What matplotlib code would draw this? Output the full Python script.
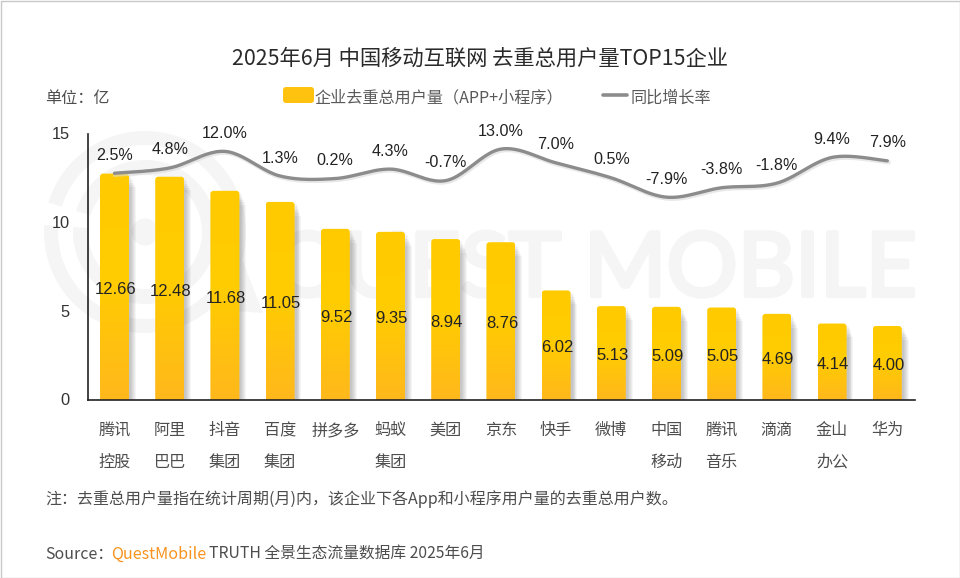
import numpy as np
import matplotlib
matplotlib.use('Agg')
import matplotlib.pyplot as plt
import matplotlib.patheffects as pe
from matplotlib.patches import FancyBboxPatch, Rectangle, Circle, Wedge, Polygon
from matplotlib.transforms import ScaledTranslation
from matplotlib.colors import LinearSegmentedColormap

plt.rcParams['font.family'] = ['Noto Sans CJK SC', 'DejaVu Sans']

companies = ['腾讯\n控股', '阿里\n巴巴', '抖音\n集团', '百度\n集团', '拼多多\n ', '蚂蚁\n集团', '美团\n ', '京东\n ',
             '快手\n ', '微博\n ', '中国\n移动', '腾讯\n音乐', '滴滴\n ', '金山\n办公', '华为\n ']
users = [12.66, 12.48, 11.68, 11.05, 9.52, 9.35, 8.94, 8.76, 6.02, 5.13, 5.09, 5.05, 4.69, 4.14, 4.00]
growth = [2.5, 4.8, 12.0, 1.3, 0.2, 4.3, -0.7, 13.0, 7.0, 0.5, -7.9, -3.8, -1.8, 9.4, 7.9]
y_ticks = [0, 5, 10, 15]

W, H = 960, 578
fig = plt.figure(figsize=(W / 100, H / 100), dpi=100)
bg = fig.add_axes([0, 0, 1, 1])
bg.set_xlim(0, W); bg.set_ylim(H, 0); bg.axis('off')

# frame
bg.add_patch(Rectangle((0.5, 0.5), W - 1, H - 1, fill=False, ec='#c8c8c8', lw=1.0))

# watermark
wm = '#f5f5f5'
cx, cy = 145, 232
bg.add_patch(Wedge((cx, cy), 101, 197, 544, width=14, fc=wm, ec='none'))
bg.add_patch(Wedge((cx, cy), 72, 197, 544, width=15, fc=wm, ec='none'))
bg.add_patch(Circle((cx, cy), 13.5, fc=wm, ec='none'))
bg.add_patch(Polygon([(236, 244), (263, 313), (222, 310)], fc=wm, ec='none'))
bg.text(917, 296, 'QUEST MOBILE', fontsize=64, family='Lato', color=wm, ha='right', va='baseline',
        path_effects=[pe.withStroke(linewidth=3, foreground=wm)])

TXT = '#4d4d4d'
bg.text(480, 59, '2025年6月 中国移动互联网 去重总用户量TOP15企业', fontsize=15.35, ha='center', va='center', color='#2a2a2a')
bg.text(45, 98, '单位：亿', fontsize=11.6, ha='left', va='center', color=TXT)

# legend
bg.add_patch(FancyBboxPatch((283, 87), 31, 16, boxstyle='round,pad=0,rounding_size=3', fc='#ffc20e', ec='none'))
bg.text(314.5, 98, '企业去重总用户量（APP+小程序）', fontsize=11.6, ha='left', va='center', color='#5a5a5a')
bg.plot([603, 627], [94.5, 94.5], color='#8c8c8c', lw=2.6, solid_capstyle='round')
bg.text(631, 98, '同比增长率', fontsize=11.6, ha='left', va='center', color='#5a5a5a')

# plot axes: the baseline is drawn a little below value 0
L, R, T, B = 87.5, 915, 130, 400
ZERO = 396.4
PX = 17.6
YMIN = (ZERO - B) / PX
YMAX = (ZERO - T) / PX
ax = fig.add_axes([L / W, 1 - B / H, (R - L) / W, (B - T) / H])
ax.patch.set_alpha(0)
STEP = 55.2
x = np.arange(len(users))
XLIM = ((L - 114.5) / STEP, (R - 114.5) / STEP)
for s in ('top', 'right'):
    ax.spines[s].set_visible(False)
ax.spines['left'].set_bounds(YMIN, (ZERO - 134) / PX)
for s in ('left', 'bottom'):
    ax.spines[s].set_color('#222222')
    ax.spines[s].set_linewidth(1.2)

ax.set_yticks(y_ticks)
ax.set_yticklabels([str(t) for t in y_ticks], family='Liberation Sans', fontsize=11.8, color='#333333')
ax.tick_params(axis='y', length=0, pad=13)
ax.set_xticks(x)
ax.set_xticklabels(companies, fontsize=11.6, color=TXT, linespacing=2.12)
ax.tick_params(axis='x', length=0, pad=15.9)

# bars
BW = 29 / STEP
cmap = LinearSegmentedColormap.from_list('b', ['#ffcc00', '#ffcb02', '#ffb81c'])
grad = np.linspace(0, 1, 128).reshape(-1, 1)
bars = ax.bar(x, users, width=BW, color='none')
for xi, v in zip(x, users):
    # soft shadow at the right of the bar
    for k in range(6):
        ax.add_patch(Rectangle((xi - BW / 2 + 0.02, YMIN), BW + (k + 1) * 0.017, v - YMIN - 0.13 * (k + 1),
                               fc='#000000', alpha=0.04, ec='none', zorder=1))
    clip = FancyBboxPatch((xi - BW / 2, -1.5), BW, v + 1.5, boxstyle='round,pad=0,rounding_size=0.055',
                          mutation_aspect=STEP / PX, fc='none', ec='none', transform=ax.transData)
    ax.add_patch(clip)
    im = ax.imshow(grad, extent=(xi - BW / 2, xi + BW / 2, YMIN, v), cmap=cmap, vmin=0, vmax=1,
                   aspect='auto', origin='upper', zorder=2)
    im.set_clip_path(clip)
    ax.annotate(f'{v:.2f}', (xi, v / 2 - 0.26), xytext=(1, 0), textcoords='offset pixels', ha='center', va='center',
                fontsize=12, family='Liberation Sans', color='#222222', zorder=4)
ax.set_xlim(*XLIM)
ax.set_ylim(YMIN, YMAX)

# tick labels sit slightly below their nominal height in the reference
for lab, dy in zip(ax.get_yticklabels(), [-3, -2.6, -1.6, -0.6]):
    lab.set_transform(lab.get_transform() + ScaledTranslation(0, dy / 100, fig.dpi_scale_trans))

# growth line (secondary axis)
ax2 = ax.twinx()
ax2.set_ylim((179 - B) / 2.3, (179 - T) / 2.3)
ax2.axis('off')
def smooth(xs, ys, n=24):
    px = np.r_[xs[0], xs, xs[-1]]; py = np.r_[ys[0], ys, ys[-1]]
    ox, oy = [], []
    for i in range(1, len(px) - 2):
        t = np.linspace(0, 1, n, endpoint=False)
        for arr, o in ((px, ox), (py, oy)):
            a, b, c, d = arr[i - 1], arr[i], arr[i + 1], arr[i + 2]
            o.extend(0.5 * (2 * b + (c - a) * t + (2 * a - 5 * b + 4 * c - d) * t ** 2 + (3 * b - a - 3 * c + d) * t ** 3))
    ox.append(xs[-1]); oy.append(ys[-1])
    return ox, oy
sx, sy = smooth(x.astype(float), np.array(growth, float))
ax2.plot(sx, sy, color='#d9d9d9', lw=3, alpha=0.6, zorder=2,
         transform=ax2.transData + ScaledTranslation(1 / 100, -1.5 / 100, fig.dpi_scale_trans))
ax2.plot(sx, sy, color='#8c8c8c', lw=2.4, solid_capstyle='round', zorder=3)
for xi, g in zip(x, growth):
    ax2.annotate(f'{g:.1f}%', (xi, g), xytext=(0, 18), textcoords='offset pixels', ha='center', va='center',
                 fontsize=11.6, family='Liberation Sans', color='#222222')

# notes
bg.text(45, 499, '注：去重总用户量指在统计周期(月)内，该企业下各App和小程序用户量的去重总用户数。', fontsize=11.5,
        ha='left', va='center', color=TXT)
bg.text(45, 554, 'Source：', fontsize=11.5, ha='left', va='center', color=TXT)
bg.text(111, 554, 'QuestMobile', fontsize=11.6, ha='left', va='center', color='#f7931e')
bg.text(209, 554, 'TRUTH 全景生态流量数据库 2025年6月', fontsize=11.35, ha='left', va='center', color=TXT)

fig.savefig('out.png', dpi=100)
